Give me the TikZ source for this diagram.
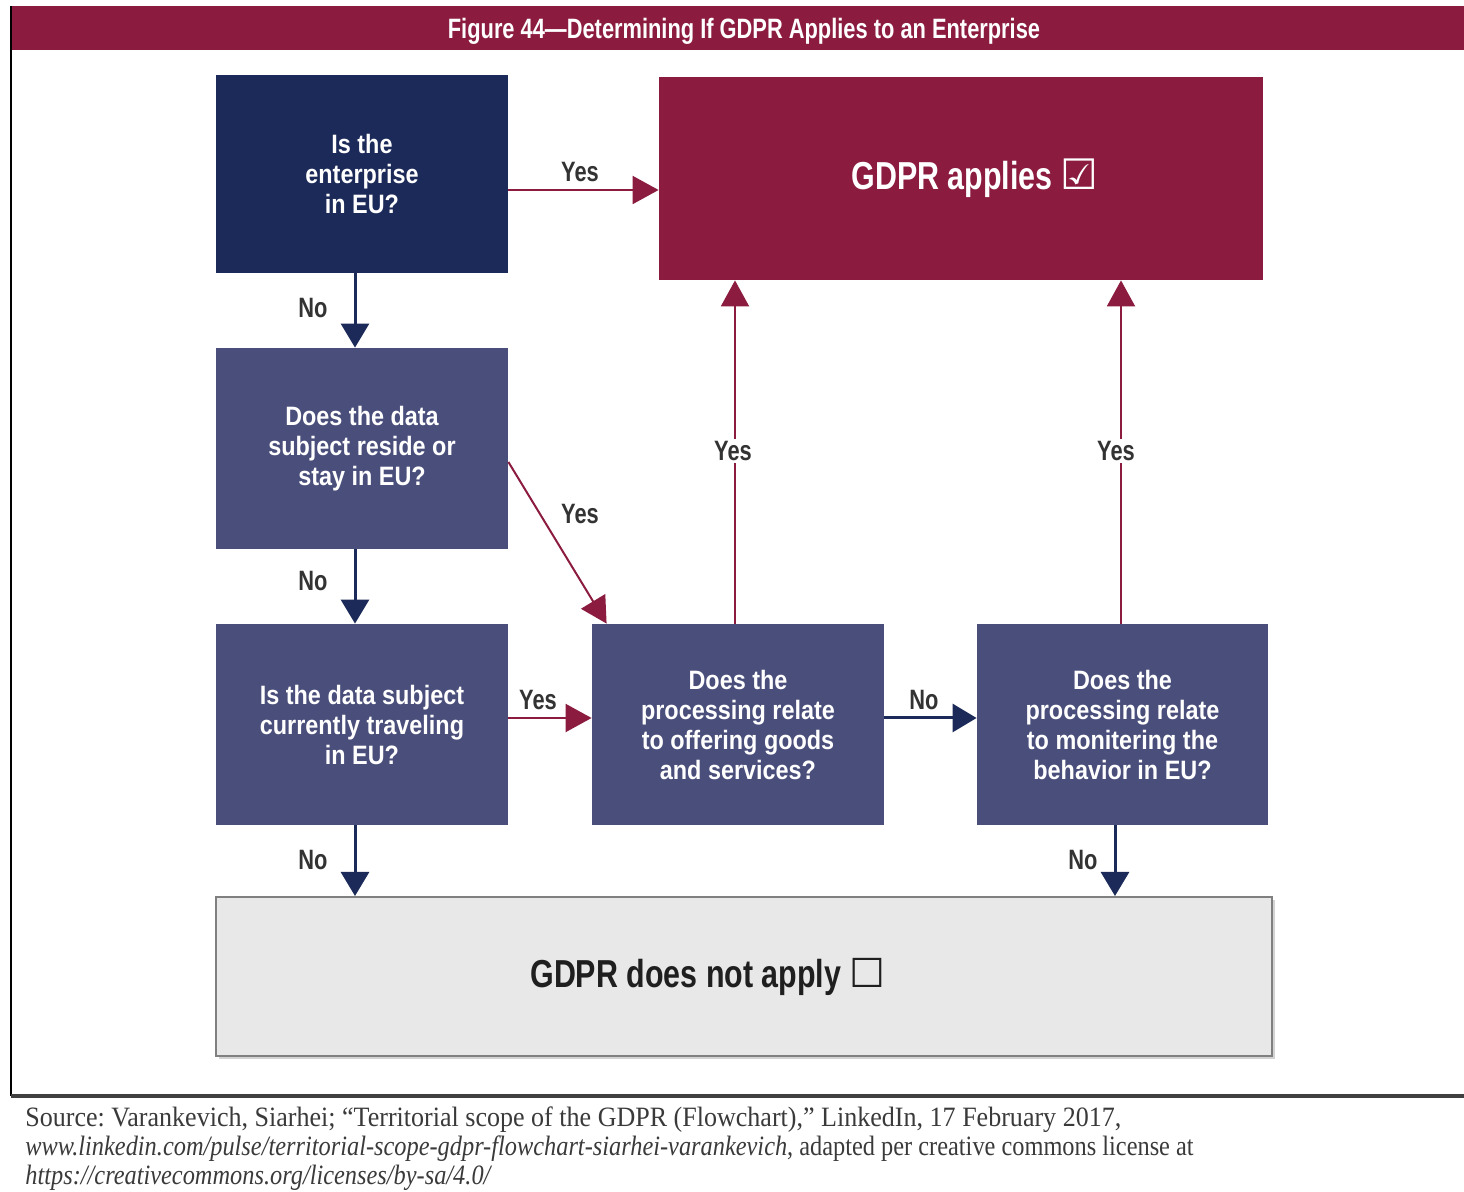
\documentclass[tikz,border=0pt]{standalone}
\usepackage{fontspec}
\setmainfont{Liberation Sans}
\newfontfamily\boxfont{Liberation Sans}[FakeStretch=0.88]
\newfontfamily\narrowfont{Liberation Sans}[FakeStretch=0.78]
\newfontfamily\notefont{Liberation Serif}[FakeStretch=0.93]
\newfontfamily\linkfont{Liberation Serif}[FakeStretch=0.87]
\newfontfamily\symfont{DejaVu Sans}
\usetikzlibrary{arrows.meta,shadows}
\frenchspacing

\definecolor{navy}{HTML}{1B2A58}
\definecolor{slate}{HTML}{4A4E7B}
\definecolor{crimson}{HTML}{8B1C3F}
\definecolor{labelgrey}{HTML}{333333}
\definecolor{notegrey}{HTML}{3A3A3A}
\definecolor{panelgrey}{HTML}{E8E8E8}
\definecolor{panelline}{HTML}{808080}

\tikzset{
  question/.style={rectangle, fill=slate, text=white, align=center,
    minimum width=146pt, minimum height=100.5pt, inner sep=2pt,
    font=\boxfont\bfseries\fontsize{13.3}{15}\selectfont},
  yesline/.style={draw=crimson, line width=1pt,
    -{Triangle[length=13pt,width=14pt]}},
  noline/.style={draw=navy, line width=1.5pt,
    -{Triangle[length=12pt,width=14pt]}},
  edgelabel/.style={text=labelgrey, inner sep=1pt,
    font=\narrowfont\bfseries\fontsize{14}{16}\selectfont},
  footline/.style={anchor=base west, inner sep=0pt, text=notegrey,
    font=\notefont\fontsize{14}{16}\selectfont},
  linkline/.style={footline, font=\linkfont\fontsize{14}{16}\selectfont},
}

\begin{document}
\begin{tikzpicture}[x=0.5pt, y=-0.5pt]
\useasboundingbox (0,0) rectangle (1464,1192);

% frame and heading band
\fill[crimson] (11,6) rectangle (1464,50);
\node (title) at (744,31) [text=white, inner sep=0pt,
  font=\narrowfont\bfseries\fontsize{14}{16}\selectfont]
  {Figure 44—Determining If GDPR Applies to an Enterprise};
\draw[black, line width=1.2pt] (11,6) -- (11,1096);
\draw[black!75, line width=2pt] (11,1096) -- (1464,1096);

% decision boxes
\node (inEU) at (362,174) [question, fill=navy, minimum height=99pt]
  {Is the\\enterprise\\in EU?};
\node (applies) at (961,178.5) [rectangle, fill=crimson, text=white,
  minimum width=302pt, minimum height=101.5pt,
  font=\narrowfont\bfseries\fontsize{19.5}{22}\selectfont]
  {\hspace*{14pt}GDPR applies {\symfont\mdseries\fontsize{21}{22}\selectfont ☑}};
\node (reside) at (362,448.5) [question]
  {Does the data\\subject reside or\\stay in EU?};
\node (travel) at (362,724.5) [question]
  {Is the data subject\\currently traveling\\in EU?};
\node (offer) at (738,724.5) [question]
  {Does the\\processing relate\\to offering goods\\and services?};
\node (monitor) at (1122.5,724.5) [question, minimum width=145.5pt]
  {Does the\\processing relate\\to monitering the\\behavior in EU?};
\node (notapply) at (744,976.5) [rectangle, fill=panelgrey, draw=panelline,
  line width=1pt, minimum width=528pt, minimum height=79.5pt,
  drop shadow={shadow xshift=1.5pt, shadow yshift=-1.5pt, opacity=0.35},
  text=black!88, font=\narrowfont\bfseries\fontsize{19.5}{22}\selectfont]
  {GDPR does not apply {\symfont\mdseries\fontsize{20}{22}\selectfont ☐}\hspace*{36pt}};

% connectors
\draw[yesline] ([yshift=-8pt]inEU.east) -- ([yshift=-8pt]inEU.east -| applies.west);
\draw[noline] ([xshift=-3.5pt]inEU.south) -- ([xshift=-3.5pt]reside.north);
\draw[yesline] ([yshift=-6.75pt]reside.east) -- ([xshift=7.5pt]offer.north west);
\draw[noline] ([xshift=-3.5pt]reside.south) -- ([xshift=-3.5pt]travel.north);
\draw[yesline] ([yshift=3.25pt]travel.east) -- ([yshift=3.25pt]offer.west);
\draw[noline] ([xshift=-3.5pt]travel.south) -- ([xshift=-3.5pt]travel.south |- notapply.north);
\draw[yesline] ([xshift=-1.5pt]offer.north) -- ([xshift=-1.5pt]offer.north |- applies.south);
\draw[noline] ([yshift=3.25pt]offer.east) -- ([yshift=3.25pt]monitor.west);
\draw[yesline] ([xshift=-0.75pt]monitor.north) -- ([xshift=-0.75pt]monitor.north |- applies.south);
\draw[noline] ([xshift=-3.75pt]monitor.south) -- ([xshift=-3.75pt]monitor.south |- notapply.north);

% connector labels
\node (l1) at (580,172) [edgelabel] {Yes};
\node (l2) at (313,308) [edgelabel] {No};
\node (l3) at (580,514) [edgelabel] {Yes};
\node (l4) at (313,581) [edgelabel] {No};
\node (l5) at (538,700) [edgelabel] {Yes};
\node (l6) at (313,860) [edgelabel] {No};
\node (l7) at (733,451) [edgelabel, fill=white] {Yes};
\node (l8) at (924,700) [edgelabel] {No};
\node (l9) at (1116,451) [edgelabel, fill=white] {Yes};
\node (l10) at (1083,860) [edgelabel] {No};

% source note
\node (src1) at (25,1126) [footline]
  {Source: Varankevich, Siarhei; “Territorial scope of the GDPR (Flowchart),” LinkedIn, 17 February 2017,};
\node (src2) at (25,1155) [linkline]
  {\textit{www.linkedin.com/pulse/territorial-scope-gdpr-flowchart-siarhei-varankevich}, adapted per creative commons license at};
\node (src3) at (25,1184) [linkline]
  {\textit{https://creativecommons.org/licenses/by-sa/4.0/}};
\end{tikzpicture}
\end{document}
